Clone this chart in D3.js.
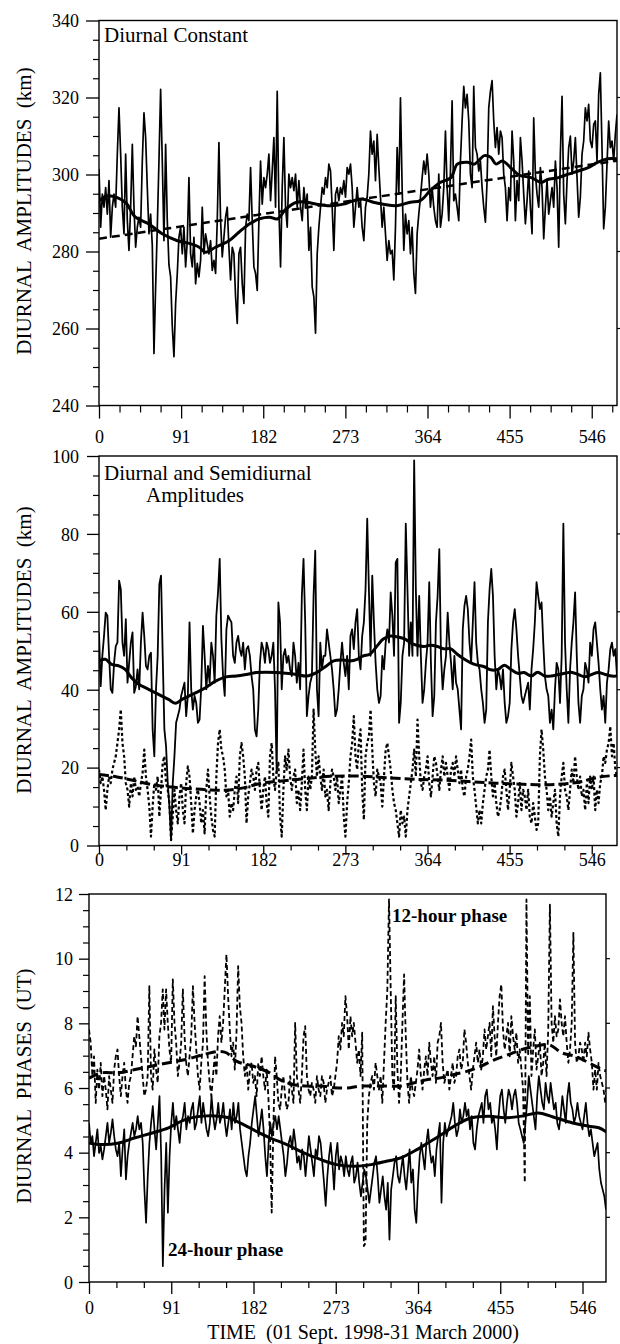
<!DOCTYPE html>
<html>
<head>
<meta charset="utf-8">
<script src="https://cdn.jsdelivr.net/npm/d3@7"></script>
<style>
  body { margin: 0; background: #fff; }
  svg text { font-family: "Liberation Serif", "Times New Roman", serif; fill: #000; }
</style>
</head>
<body>
<div id="chart"></div>
<script>

// ---------- tick labels shared by all three panels
var xMajor = [0, 91, 182, 273, 364, 455, 546];
var p1YTicks = [240, 260, 280, 300, 320, 340];
var p2YTicks = [0, 20, 40, 60, 80, 100];
var p3YTicks = [0, 2, 4, 6, 8, 10, 12];

// ---------- panel 1 : diurnal constant (km), read every ~1.86 days
var p1LastDay = 574;
var p1Constant = [
  301.4,286.3,294.9,291.5,296.6,289.7,298.4,283.7,291.5,294.9,
  291.5,305.3,317.3,305.3,291.5,284.6,305.3,288.0,280.3,291.5,
  307.8,291.5,281.1,286.3,288.9,286.3,303.5,316.0,309.6,296.6,
  284.6,289.7,281.6,253.5,270.8,286.3,303.5,322.1,303.5,282.8,
  307.8,288.0,276.5,273.4,260.5,252.7,266.5,274.3,283.7,286.3,
  279.4,286.3,276.0,282.8,299.2,279.4,276.0,283.7,271.6,276.9,
  273.4,277.7,291.5,279.4,284.6,282.0,279.4,282.8,275.1,277.7,
  274.3,288.0,308.3,288.0,278.6,283.7,288.9,291.5,281.1,272.6,
  281.1,279.4,268.2,261.3,279.4,281.1,271.6,266.5,286.3,289.7,
  288.0,301.8,288.0,276.0,274.3,269.9,288.0,303.5,292.3,299.2,
  296.6,300.1,305.3,293.2,300.9,309.6,291.5,321.6,291.5,276.0,
  296.6,309.6,291.5,286.3,300.1,296.6,299.2,295.8,300.1,291.5,
  298.4,291.5,288.0,296.6,291.5,294.9,280.3,286.3,270.8,268.2,
  258.8,279.4,286.3,291.5,296.6,294.9,299.2,296.6,302.7,300.9,
  291.5,280.3,294.9,296.6,293.2,296.6,294.9,298.4,294.1,301.8,
  300.1,302.7,296.6,286.3,291.5,296.6,291.5,293.2,286.3,282.8,
  291.5,294.1,300.1,311.3,305.3,308.7,298.4,310.4,301.8,294.1,
  286.3,291.5,284.6,277.7,282.8,279.4,280.3,272.6,286.3,307.0,
  294.9,319.9,296.6,280.3,289.7,284.6,288.0,279.4,286.3,274.3,
  269.1,284.6,289.7,294.1,299.2,303.5,300.1,305.3,300.1,291.5,
  296.6,291.5,288.0,286.3,300.1,286.3,289.7,296.6,311.3,296.6,
  288.0,300.9,319.1,293.2,294.9,291.5,288.0,303.5,313.9,322.9,
  317.3,320.8,313.9,300.1,296.6,322.9,307.0,305.3,300.9,303.5,
  296.6,291.5,287.6,298.4,317.3,321.6,324.4,313.9,307.0,312.2,
  305.3,311.3,309.6,300.1,296.6,288.0,296.6,293.2,311.3,303.5,
  288.0,298.4,293.2,309.6,303.5,294.9,287.2,293.2,300.9,291.5,
  284.6,314.7,300.1,294.9,291.5,301.8,296.6,283.3,291.5,298.4,
  289.7,293.2,296.6,291.5,303.5,296.6,281.1,305.3,320.3,294.9,
  287.2,298.4,307.0,310.0,300.1,303.5,309.6,299.2,288.9,294.1,
  305.3,308.7,317.3,313.9,318.2,308.7,307.0,313.0,313.9,303.5,
  320.8,326.4,307.0,285.9,291.5,302.7,313.9,307.0,308.7,303.5,
  310.4,315.6
];
var p1SmoothDay = [0,10,29,40,55,70,87,100,111,118,129,144,155,167,178,189,198,207,219,230,
  241,256,271,282,293,304,315,330,345,356,367,378,390,397,408,416,427,434,440,447,
  457,466,479,490,497,509,520,531,542,553,564,574];
var p1SmoothVal = [293.2,294.5,292.8,289,287.2,284.6,282.8,282.1,281.1,279.8,281.1,282.8,285,287.2,288.5,288.9,288.5,291,292.8,292.8,
  292.3,291.9,292.3,293.2,293.6,292.8,292.3,291.9,292.8,293.2,295.8,297.9,299.2,302.7,303.2,302.7,304.9,304.5,302.7,303.5,
  301.6,299.8,299.2,297.9,298.7,299.2,300.1,300.9,301.8,303.2,304.1,304.1];
var p1TrendDay = [0, 574];
var p1TrendVal = [283.3, 303.6];

// ---------- panel 2 : diurnal (solid) and semidiurnal (dashed) amplitudes (km)
var p2LastDay = 574;
var p2Diurnal = [
  54.7,40.9,48.7,53.8,59.8,59.0,48.7,40.1,39.2,46.9,
  51.2,52.1,68.0,65.8,52.1,48.7,58.1,41.8,46.9,52.1,
  54.7,39.2,40.9,45.2,40.1,52.1,59.8,53.8,46.1,45.2,
  48.7,49.5,29.8,22.9,40.1,48.7,67.1,69.3,48.7,29.8,
  25.5,16.0,10.0,1.4,16.0,22.9,31.5,33.2,34.9,38.4,
  40.1,41.8,33.2,38.4,57.3,40.1,34.9,38.4,36.6,31.5,
  32.3,40.9,56.4,48.7,40.1,46.1,41.8,52.1,48.7,41.8,
  59.0,65.0,73.6,53.0,43.5,38.4,55.5,59.0,58.1,57.3,
  48.7,46.9,52.1,53.8,50.4,48.7,52.1,45.2,50.4,51.2,
  48.7,43.5,40.1,29.8,28.0,34.9,46.9,52.1,50.4,46.9,
  52.1,50.4,46.9,48.7,52.1,40.1,18.6,62.4,57.3,40.1,
  48.7,50.4,46.9,48.7,45.2,43.5,52.1,48.7,41.8,46.9,
  40.1,64.1,73.6,57.3,33.2,38.4,41.8,43.5,64.1,75.7,
  40.1,33.2,52.1,45.2,48.7,48.7,55.5,52.1,48.7,45.2,
  40.1,33.2,34.9,40.1,46.9,52.1,46.9,43.5,48.7,40.1,
  53.8,55.5,50.4,57.3,60.7,48.7,45.2,53.8,57.3,65.8,
  83.9,65.8,48.7,69.3,57.3,46.9,40.1,36.6,38.4,48.7,
  45.2,52.1,55.5,52.1,65.0,59.0,48.7,72.7,73.6,31.5,
  36.6,48.7,52.1,82.6,65.8,48.7,57.3,48.7,98.9,65.8,
  48.7,64.1,48.7,36.6,40.1,46.9,52.1,67.6,46.9,33.2,
  38.4,57.3,64.1,76.1,48.7,40.1,45.2,48.7,59.8,52.1,
  46.9,40.1,48.7,41.8,40.1,34.9,29.8,55.5,61.5,64.1,
  60.7,52.1,46.9,57.3,67.6,52.1,46.9,45.2,40.1,36.6,
  31.5,34.9,57.3,65.8,71.0,64.1,48.7,40.1,45.2,43.5,
  40.1,45.2,36.6,31.5,33.2,36.6,50.4,57.3,60.7,55.5,
  48.7,43.5,38.4,36.6,38.4,40.1,41.8,34.9,45.2,50.4,
  57.3,67.6,64.1,60.7,62.4,52.1,43.5,40.1,38.4,31.5,
  34.9,29.8,40.1,46.9,45.2,36.6,48.7,82.6,52.1,40.1,
  31.5,45.2,52.1,57.3,65.0,48.7,36.6,31.5,38.4,40.1,
  46.9,45.2,41.8,52.1,48.7,55.5,57.3,52.1,46.9,40.1,
  34.9,38.4,31.5,41.8,45.2,50.4,52.1,48.7,50.4,43.5
];
var p2Semi = [
  19.5,16.0,17.7,14.3,9.1,14.3,17.7,16.0,19.5,21.2,
  22.9,26.3,29.8,34.9,26.3,22.9,16.0,14.3,10.0,16.0,
  12.6,17.7,14.3,15.2,12.6,16.0,18.6,24.6,17.7,14.3,
  10.0,2.3,10.0,16.0,14.3,17.7,7.4,14.3,21.2,22.9,
  16.0,14.3,10.9,1.4,7.4,14.3,9.1,5.7,12.6,16.0,
  9.1,5.7,16.0,20.3,17.7,10.9,3.1,9.1,12.6,14.3,
  10.9,5.7,9.1,3.1,14.3,19.5,12.6,7.4,4.0,2.3,
  17.7,26.3,29.8,24.6,22.9,19.5,12.6,14.3,7.4,10.9,
  9.1,14.3,17.7,10.9,22.9,26.3,22.9,17.7,5.7,12.6,
  16.0,19.5,17.7,14.3,19.5,21.2,14.3,9.1,14.3,17.7,
  10.9,7.4,22.9,26.3,17.7,14.3,19.5,21.2,7.4,2.3,
  14.3,22.9,19.5,24.6,17.7,14.3,17.7,19.5,10.9,14.3,
  9.1,16.0,24.6,14.3,9.1,17.7,14.3,17.7,34.9,24.6,
  17.7,22.9,17.7,14.3,19.5,12.6,14.3,9.1,16.0,19.5,
  17.7,14.3,17.7,10.9,14.3,17.7,7.4,2.3,10.9,16.0,
  22.9,26.3,33.2,22.9,19.5,26.3,29.8,14.3,6.6,22.9,
  26.3,28.0,34.9,24.6,16.0,12.6,19.5,17.7,16.0,10.0,
  17.7,24.6,26.3,22.9,19.5,14.3,10.9,9.1,5.7,2.3,
  9.1,5.7,7.4,2.3,9.1,12.6,16.0,19.5,24.6,17.7,
  32.3,22.9,16.0,14.3,17.7,19.5,22.9,16.0,12.6,17.7,
  22.9,21.2,17.7,14.3,19.5,22.9,17.7,21.2,17.7,14.3,
  19.5,21.2,17.7,22.9,19.5,16.0,19.5,14.3,12.6,17.7,
  19.5,22.9,27.2,17.7,14.3,10.0,5.7,9.1,5.7,10.9,
  14.3,17.7,19.5,24.6,17.7,12.6,16.0,10.9,7.4,9.1,
  12.6,17.7,19.5,14.3,9.1,14.3,21.2,17.7,14.3,7.4,
  10.9,16.0,9.1,14.3,12.6,9.1,14.3,7.4,5.7,10.9,
  7.4,4.0,5.7,22.9,29.8,24.6,17.7,14.3,9.1,12.6,
  7.4,10.9,14.3,5.7,2.3,12.6,17.7,21.2,14.3,12.6,
  9.1,14.3,19.5,16.0,22.9,17.7,14.3,17.7,12.6,14.3,
  9.1,16.0,10.9,17.7,14.3,17.7,9.1,14.3,10.9,16.0,
  17.7,22.9,21.2,24.6,26.3,30.6,22.9,26.3,19.5,17.7
];
var p2DiurnalSmoothDay = [0,7,14,22,29,36,44,55,66,77,85,92,100,107,118,129,141,152,163,174,
  185,196,207,219,230,241,252,260,271,278,286,293,300,308,315,323,330,338,345,352,
  360,367,375,382,390,397,405,412,419,427,434,442,449,457,464,471,479,486,494,501,
  509,516,523,531,538,546,553,561,568,574];
var p2DiurnalSmoothVal = [47.4,47.8,46.5,46.1,45.2,43.1,41.4,40.1,38.8,37.5,36.5,37.5,38.4,39.2,40.5,42.2,43.3,43.5,43.9,44.4,
  44.5,44.4,44.2,43.9,43.5,44.4,46.1,47.4,47.6,47.4,47.8,48.7,49.1,51.2,53,53.8,53.6,53.1,52.1,51.4,
  51.1,51.4,51.1,50.5,50.5,49.1,47.8,46.9,46.3,45.9,45.1,45.2,46.3,45.1,44.2,44.4,43.5,44.5,43.5,43.5,
  43.9,44.2,44.5,43.9,43.3,43.9,44.4,43.9,43.5,43.5];
var p2SemiSmoothDay = [0,20,40,60,80,100,120,140,160,180,200,230,260,290,320,350,380,410,440,470,500,530,555,574];
var p2SemiSmoothVal = [18.2,17.6,16.6,15.6,15.0,14.6,14.3,14.2,14.8,16.0,16.5,17.2,17.8,17.8,17.4,17.0,16.8,16.4,16.0,15.7,15.6,16.2,17.6,18.0];

// ---------- panel 3 : 24-hour (solid) and 12-hour (dashed) phases (UT)
var p3LastDay24 = 572;
var p3LastDay12 = 573;
var p3Phase24 = [
  4.92,4.30,4.51,3.89,4.30,4.72,3.99,4.20,3.79,4.10,
  4.51,4.92,4.30,4.61,5.03,4.51,4.10,3.89,4.30,3.27,
  4.10,4.72,3.17,3.89,4.30,4.61,4.92,4.51,4.72,5.13,
  4.72,4.92,4.30,2.86,1.83,3.27,4.30,4.92,5.44,4.72,
  4.10,4.92,5.75,3.89,0.49,2.86,4.30,2.14,3.89,4.92,
  5.54,4.72,5.13,4.72,4.30,4.92,5.13,5.54,4.72,5.13,
  4.92,5.34,5.54,4.72,4.92,5.34,5.75,4.92,5.54,5.13,
  4.72,4.51,4.92,5.75,5.13,4.72,5.03,5.54,4.92,5.13,
  5.54,4.92,4.51,4.92,5.34,4.72,5.54,4.92,5.13,5.54,
  4.72,4.30,3.89,3.48,3.27,3.89,4.30,4.92,5.34,5.75,
  5.13,4.51,4.92,5.34,4.72,3.89,3.27,4.30,4.92,4.51,
  4.92,5.13,4.72,5.13,4.72,4.30,3.89,3.27,3.69,4.30,
  4.51,4.10,4.72,4.30,3.69,3.89,3.48,4.10,3.89,3.27,
  3.89,4.51,4.10,3.69,3.27,4.10,3.89,4.51,4.30,3.69,
  3.07,2.35,3.27,3.89,4.30,3.69,2.86,3.89,4.30,3.48,
  3.89,3.69,3.27,3.89,3.48,3.27,3.69,3.89,3.07,3.27,
  3.69,3.07,2.65,3.07,3.48,3.27,2.86,2.45,2.86,3.27,
  3.69,3.89,3.27,2.45,2.86,3.27,2.65,2.24,3.07,1.31,
  2.86,3.27,3.69,3.89,3.27,3.07,3.48,3.89,3.27,2.86,
  3.48,4.10,3.07,3.48,2.24,1.83,3.07,3.89,4.30,3.89,
  3.48,4.30,4.72,4.10,3.69,3.89,3.27,4.10,4.51,4.92,
  2.45,4.30,4.92,4.51,4.72,4.92,5.13,5.54,4.92,4.51,
  4.72,5.34,4.92,5.13,5.54,5.13,5.34,4.72,5.13,4.30,
  4.10,4.72,5.13,5.34,5.54,4.92,5.75,5.95,5.34,5.54,
  4.92,5.13,4.72,4.10,5.13,5.75,5.95,5.34,4.92,5.54,
  5.95,5.75,5.34,5.75,5.95,5.54,4.92,4.72,4.51,4.30,
  4.92,5.54,6.37,5.95,5.54,5.13,4.72,5.75,6.37,5.95,
  5.54,5.34,6.16,5.75,5.54,6.16,5.75,5.34,5.54,4.92,
  4.72,5.13,5.75,5.34,4.92,5.75,6.16,5.54,5.34,4.92,
  5.13,5.54,5.13,4.92,4.72,5.13,5.54,4.92,4.51,4.72,
  4.30,3.89,4.10,4.30,3.48,3.07,2.86,2.65,2.24
];
var p3Phase12 = [
  7.81,7.40,6.37,6.98,5.54,6.57,5.95,6.78,5.75,6.37,
  5.95,5.34,6.37,5.95,5.54,6.57,6.98,7.19,6.37,5.75,
  6.37,6.78,5.95,5.54,6.16,6.37,6.98,7.60,7.29,8.22,
  7.60,6.98,6.37,5.75,5.95,6.37,9.15,6.37,5.95,7.19,
  6.57,6.16,7.60,8.01,9.05,7.81,9.05,8.01,7.19,6.78,
  9.36,8.01,7.40,6.37,6.78,7.40,9.05,7.60,6.78,6.37,
  6.98,7.60,9.15,8.01,7.19,6.37,5.95,6.78,7.40,9.46,
  7.81,6.78,6.16,5.75,6.37,6.98,6.37,7.60,8.22,7.40,
  8.01,9.05,10.13,8.84,7.81,6.98,7.40,6.57,7.71,9.77,
  8.53,8.01,6.98,6.37,6.78,5.95,6.57,6.78,6.16,6.37,
  5.75,6.78,6.37,6.98,6.37,5.95,6.57,5.75,4.50,2.15,
  4.80,6.98,6.37,5.54,5.34,5.95,6.37,5.75,5.34,5.54,
  6.37,5.95,5.54,8.01,6.37,5.95,5.54,6.37,7.60,7.91,
  6.37,5.95,5.75,6.16,5.95,5.54,6.37,5.95,5.75,6.37,
  6.16,5.54,5.95,6.16,6.37,5.75,5.95,6.37,6.78,7.60,
  7.19,8.01,7.60,8.84,8.22,7.19,8.22,7.60,8.01,7.40,
  6.78,7.19,6.37,7.71,1.11,1.21,4.92,5.75,6.16,6.37,
  5.95,6.78,6.37,5.95,6.37,5.54,6.78,8.01,9.05,11.83,
  9.05,6.37,5.95,8.84,6.57,5.54,6.37,8.01,9.51,7.60,
  6.16,5.54,6.37,5.95,5.75,6.16,6.57,7.19,6.37,5.95,
  6.57,6.98,6.37,7.40,6.78,6.37,6.98,6.16,7.40,7.60,
  8.01,6.78,6.16,6.37,6.57,5.95,6.37,6.78,6.16,6.37,
  6.98,7.19,6.57,6.78,7.81,7.40,6.78,6.37,5.95,6.57,
  6.98,7.40,6.78,7.19,6.57,6.98,7.81,7.19,7.60,8.01,
  6.98,8.53,7.60,6.98,8.01,8.84,9.20,7.81,7.19,7.60,
  8.01,6.98,8.22,7.60,7.19,7.71,6.78,7.19,6.57,5.95,
  3.07,11.83,6.98,8.84,6.37,7.19,7.81,6.57,6.98,7.40,
  6.37,6.78,7.40,6.37,7.81,11.67,8.01,7.40,8.22,7.60,
  7.81,8.74,8.01,7.60,8.22,7.40,6.78,7.19,8.01,10.80,
  7.40,6.78,6.98,7.40,7.19,6.78,7.40,6.98,7.71,7.19,
  6.78,5.95,6.57,5.95,6.78,6.37,6.16,5.95,5.54,6.16
];
var p3Smooth24Day = [0,14,33,51,70,88,107,126,144,155,167,181,200,219,237,256,274,293,312,330,
  345,360,375,390,404,423,442,460,479,497,516,535,553,564,574];
var p3Smooth24Val = [4.3,4.25,4.3,4.46,4.61,4.77,5.03,5.13,5.13,5.08,4.92,4.72,4.46,4.25,4.0,3.79,3.63,3.58,3.63,3.74,
  3.84,4.05,4.3,4.56,4.82,5.08,5.13,5.08,5.13,5.23,5.08,4.92,4.82,4.77,4.61];
var p3Smooth12Day = [0,14,33,51,70,88,107,126,144,152,163,181,200,211,226,241,256,271,286,300,
  315,330,345,360,375,390,404,419,434,449,464,479,494,509,523,538,553,568,574];
var p3Smooth12Val = [6.3,6.47,6.47,6.57,6.68,6.78,6.88,7.03,7.13,7.09,6.83,6.68,6.47,6.26,6.11,6.06,6.06,6.01,6.0,6.06,
  6.06,6.06,6.06,6.16,6.26,6.32,6.42,6.52,6.68,6.88,7.03,7.19,7.29,7.34,7.09,6.98,6.78,6.57,6.52];

// ---------- svg
var svg = d3.select("#chart")
  .append("svg")
  .attr("width", 620)
  .attr("height", 1344);

var FONT = "'Liberation Serif', 'Times New Roman', serif";

// turn a values array into [day, value] points
function evenly(vals, lastDay) {
  return vals.map(function(v, i) { return [i * lastDay / (vals.length - 1), v]; });
}
function paired(days, vals) {
  return days.map(function(d, i) { return [d, vals[i]]; });
}

function drawPanel(p) {
  var x = d3.scaleLinear().domain([0, p.xMax]).range([p.left, p.right]);
  var y = d3.scaleLinear().domain(p.yDomain).range([p.bottom, p.top]);
  var g = svg.append("g");

  g.append("clipPath").attr("id", "clip" + p.id)
    .append("rect")
      .attr("x", p.left).attr("y", p.top)
      .attr("width", p.right - p.left).attr("height", p.bottom - p.top);

  var line = d3.line().x(function(d) { return x(d[0]); }).y(function(d) { return y(d[1]); });

  // lines
  p.series.forEach(function(s) {
    g.append("path")
      .datum(s.pts)
      .attr("clip-path", "url(#clip" + p.id + ")")
      .attr("d", line.curve(s.smooth ? d3.curveCatmullRom.alpha(0.5) : d3.curveLinear))
      .attr("fill", "none")
      .attr("stroke", "#000")
      .attr("stroke-width", s.w)
      .attr("stroke-linejoin", "round")
      .attr("stroke-dasharray", s.dash || null);
  });

  // frame
  g.append("rect")
    .attr("x", p.left).attr("y", p.top)
    .attr("width", p.right - p.left).attr("height", p.bottom - p.top)
    .attr("fill", "none").attr("stroke", "#000").attr("stroke-width", 1.4);

  // x axis: major ticks with labels, minor ticks
  var xa = g.append("g")
    .attr("transform", "translate(0," + p.bottom + ")")
    .call(d3.axisBottom(x).tickValues(xMajor).tickSize(p.xTickLen).tickFormat(d3.format("d")));
  xa.select(".domain").remove();
  xa.selectAll("line").attr("stroke-width", 1.3);
  xa.selectAll("text")
    .attr("y", p.xLabelY).attr("dy", null)
    .style("font-family", FONT).style("font-size", "18px");

  var xMinor = d3.range(0, p.xMax, p.xMinorStep).filter(function(d) { return xMajor.indexOf(Math.round(d)) < 0; });
  var xm = g.append("g")
    .attr("transform", "translate(0," + p.bottom + ")")
    .call(d3.axisBottom(x).tickValues(xMinor).tickSize(p.xMinorLen).tickFormat(""));
  xm.select(".domain").remove();
  xm.selectAll("line").attr("stroke-width", 1.2);

  // y axis
  var ya = g.append("g")
    .attr("transform", "translate(" + p.left + ",0)")
    .call(d3.axisLeft(y).tickValues(p.yMajor).tickSize(p.yTickLen).tickFormat(d3.format("d")));
  ya.select(".domain").remove();
  ya.selectAll("line").attr("stroke-width", 1.3);
  ya.selectAll("text")
    .attr("x", -p.yLabelGap).attr("dy", "0.35em")
    .style("font-family", FONT).style("font-size", "18px");

  var yMinor = d3.range(p.yDomain[0], p.yDomain[1], p.yMinorStep).filter(function(d) { return p.yMajor.indexOf(d) < 0; });
  var ym = g.append("g")
    .attr("transform", "translate(" + p.left + ",0)")
    .call(d3.axisLeft(y).tickValues(yMinor).tickSize(6).tickFormat(""));
  ym.select(".domain").remove();
  ym.selectAll("line").attr("stroke-width", 1.2);

  // small ticks on the right edge
  g.selectAll(".rtick")
    .data(p.yMajor.slice(1, -1))
    .enter().append("line")
      .attr("x1", p.right).attr("x2", p.right + 4)
      .attr("y1", function(d) { return y(d); }).attr("y2", function(d) { return y(d); })
      .attr("stroke", "#000").attr("stroke-width", 1.2);

  // y title
  g.append("text")
    .attr("transform", "translate(31," + p.titleY + ") rotate(-90)")
    .attr("text-anchor", "middle")
    .style("font-size", "21px")
    .style("white-space", "pre")
    .text(p.title);

  // notes inside the panel
  p.notes.forEach(function(n) {
    g.append("text")
      .attr("x", n.x).attr("y", n.y)
      .style("font-size", n.size + "px")
      .style("font-weight", n.bold ? "bold" : "normal")
      .text(n.text);
  });
}

drawPanel({
  id: 1, left: 99, right: 617, top: 20.5, bottom: 405.5, xMax: 574,
  yDomain: [240, 340], yMajor: p1YTicks, yMinorStep: 5, yTickLen: 13, yLabelGap: 20,
  xMinorStep: 22.75, xTickLen: 13, xMinorLen: 7, xLabelY: 37,
  title: "DIURNAL  AMPLITUDES  (km)", titleY: 211,
  series: [
    { pts: evenly(p1Constant, p1LastDay), w: 1.7 },
    { pts: paired(p1TrendDay, p1TrendVal), w: 2.5, dash: "8,5" },
    { pts: paired(p1SmoothDay, p1SmoothVal), w: 3, smooth: true }
  ],
  notes: [ { x: 104, y: 42, size: 21, text: "Diurnal Constant" } ]
});

drawPanel({
  id: 2, left: 99, right: 617, top: 456, bottom: 845.5, xMax: 574,
  yDomain: [0, 100], yMajor: p2YTicks, yMinorStep: 5, yTickLen: 12, yLabelGap: 20,
  xMinorStep: 91 / 3, xTickLen: 9, xMinorLen: 5, xLabelY: 20,
  title: "DIURNAL  AMPLITUDES  (km)", titleY: 650,
  series: [
    { pts: evenly(p2Semi, p2LastDay), w: 2.2, dash: "3,2.5" },
    { pts: evenly(p2Diurnal, p2LastDay), w: 1.8 },
    { pts: paired(p2SemiSmoothDay, p2SemiSmoothVal), w: 3, dash: "10,4", smooth: true },
    { pts: paired(p2DiurnalSmoothDay, p2DiurnalSmoothVal), w: 3, smooth: true }
  ],
  notes: [
    { x: 104, y: 480, size: 21, text: "Diurnal and Semidiurnal" },
    { x: 146, y: 502, size: 21, text: "Amplitudes" }
  ]
});

drawPanel({
  id: 3, left: 89, right: 606, top: 894, bottom: 1282, xMax: 572,
  yDomain: [0, 12], yMajor: p3YTicks, yMinorStep: 0.5, yTickLen: 10, yLabelGap: 16,
  xMinorStep: 91 / 3, xTickLen: 12, xMinorLen: 6, xLabelY: 32,
  title: "DIURNAL  PHASES  (UT)", titleY: 1086,
  series: [
    { pts: evenly(p3Phase12, p3LastDay12), w: 1.8, dash: "5,3" },
    { pts: evenly(p3Phase24, p3LastDay24), w: 1.7 },
    { pts: paired(p3Smooth12Day, p3Smooth12Val), w: 3, dash: "10,5", smooth: true },
    { pts: paired(p3Smooth24Day, p3Smooth24Val), w: 3, smooth: true }
  ],
  notes: [
    { x: 392, y: 922, size: 19, bold: true, text: "12-hour phase" },
    { x: 168, y: 1256, size: 19, bold: true, text: "24-hour phase" }
  ]
});

// x title under the last panel
svg.append("text")
  .attr("x", 363)
  .attr("y", 1339)
  .attr("text-anchor", "middle")
  .style("font-size", "20px")
  .style("white-space", "pre")
  .text("TIME  (01 Sept. 1998-31 March 2000)");

</script>
</body>
</html>
